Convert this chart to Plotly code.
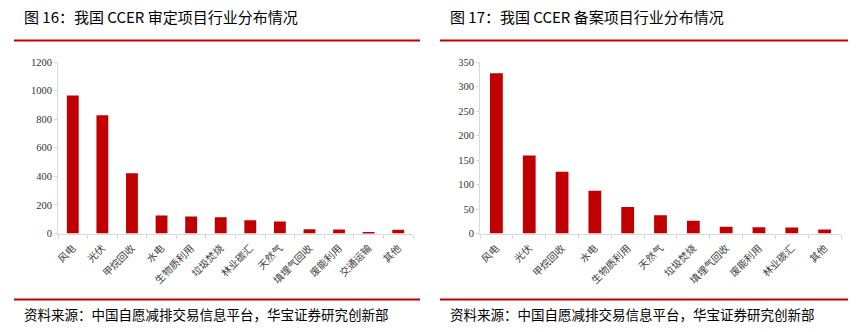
import plotly.graph_objects as go

# 图16：CCER 审定项目行业分布
approved_cats = ["风电", "光伏", "甲烷回收", "水电", "生物质利用", "垃圾焚烧",
                 "林业碳汇", "天然气", "填埋气回收", "废能利用", "交通运输", "其他"]
approved_vals = [966, 828, 421, 126, 119, 114, 93, 84, 30, 28, 7, 26]

# 图17：CCER 备案项目行业分布
filed_cats = ["风电", "光伏", "甲烷回收", "水电", "生物质利用", "天然气",
              "垃圾焚烧", "填埋气回收", "废能利用", "林业碳汇", "其他"]
filed_vals = [327, 159, 126, 87, 54, 37, 26, 14, 13, 12, 8]

left_title = "图 16：我国 CCER 审定项目行业分布情况"
right_title = "图 17：我国 CCER 备案项目行业分布情况"
source_text = "资料来源：中国自愿减排交易信息平台，华宝证券研究创新部"

W, H = 857, 332
RED = "#C00000"
AXIS_GRAY = "#D9D9D9"
CJK = "Noto Sans CJK SC"
SERIF = "Liberation Serif, Times New Roman, serif"


def px_x(x):
    return x / W


def px_y(y):
    return 1 - y / H


fig = go.Figure()
fig.add_trace(go.Bar(x=approved_cats, y=approved_vals, marker_color=RED,
                     marker_line_width=0, xaxis="x", yaxis="y", width=0.4))
fig.add_trace(go.Bar(x=filed_cats, y=filed_vals, marker_color=RED,
                     marker_line_width=0, xaxis="x2", yaxis="y2", width=0.39))

xaxis_common = dict(
    type="category", showline=True, linecolor=AXIS_GRAY, linewidth=1,
    ticks="outside", tickcolor=AXIS_GRAY, ticklen=4, tickson="boundaries",
    tickangle=-45, showgrid=False, zeroline=False, automargin=False,
    ticklabelstandoff=4,
    tickfont=dict(family=CJK, size=10, color="#404040"),
)
yaxis_common = dict(
    showline=True, linecolor=AXIS_GRAY, linewidth=1, ticks="outside",
    tickcolor=AXIS_GRAY, ticklen=3, showgrid=False, zeroline=False,
    automargin=False,
    tickfont=dict(family=SERIF, size=10.5, color="#333333"),
)

fig.update_layout(
    width=W, height=H, margin=dict(l=0, r=0, t=0, b=0),
    paper_bgcolor="white", plot_bgcolor="white", showlegend=False,
    xaxis=dict(domain=[px_x(58), px_x(413)], anchor="y", **xaxis_common),
    yaxis=dict(domain=[px_y(233.5), px_y(62)], anchor="x", range=[0, 1200],
               dtick=200, **yaxis_common),
    xaxis2=dict(domain=[px_x(480), px_x(841)], anchor="y2", **xaxis_common),
    yaxis2=dict(domain=[px_y(233.5), px_y(62)], anchor="x2", range=[0, 350],
                dtick=50, **yaxis_common),
)

# Red rules above and below each panel
for x0, x1 in [(14, 420), (440, 848)]:
    for y in (40.5, 299.5):
        fig.add_shape(type="line", xref="paper", yref="paper",
                      x0=px_x(x0), x1=px_x(x1), y0=px_y(y), y1=px_y(y),
                      line=dict(color=RED, width=2))

# Panel titles and source notes
for x, title in [(22, left_title), (448, right_title)]:
    fig.add_annotation(text=title, xref="paper", yref="paper",
                       x=px_x(x), y=px_y(17), xanchor="left", yanchor="middle",
                       showarrow=False, font=dict(family=CJK, size=15, color="#000000"))
    fig.add_annotation(text=source_text, xref="paper", yref="paper",
                       x=px_x(x), y=px_y(314), xanchor="left", yanchor="middle",
                       showarrow=False, font=dict(family=CJK, size=13.5, color="#000000"))

fig.write_html("out.html")
